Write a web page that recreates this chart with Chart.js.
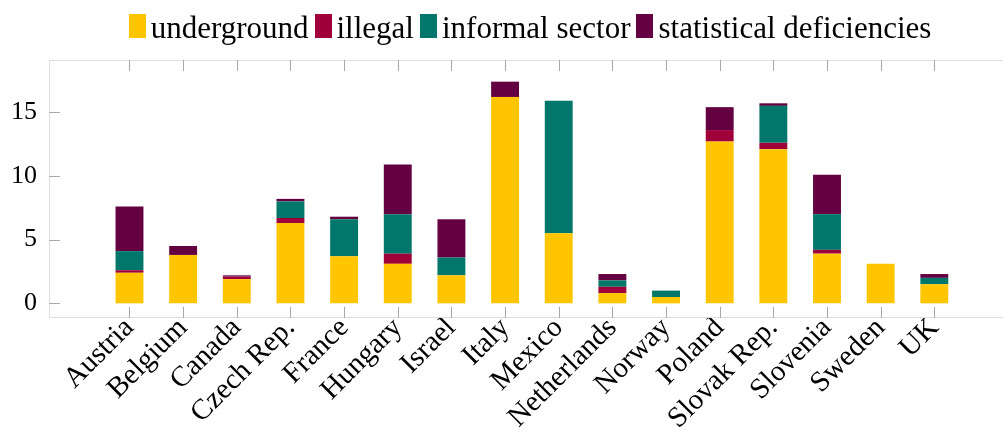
<!DOCTYPE html>
<html>
<head>
<meta charset="utf-8">
<script src="https://cdn.jsdelivr.net/npm/chart.js@4.4.0/dist/chart.umd.min.js"></script>
<style>
  html, body { margin: 0; padding: 0; background: #fff; overflow: hidden; }
  #wrap { position: relative; width: 1003px; height: 436px; }
</style>
</head>
<body>
<div id="wrap"><canvas id="chart" width="1003" height="436"></canvas></div>
<script>
const countries = ['Austria', 'Belgium', 'Canada', 'Czech Rep.', 'France', 'Hungary', 'Israel', 'Italy',
  'Mexico', 'Netherlands', 'Norway', 'Poland', 'Slovak Rep.', 'Slovenia', 'Sweden', 'UK'];
const underground = [2.4, 3.8, 1.9, 6.3, 3.7, 3.1, 2.2, 16.2, 5.5, 0.8, 0.5, 12.7, 12.1, 3.9, 3.1, 1.5];
const illegal     = [0.2, 0.0, 0.2, 0.4, 0.0, 0.8, 0.0, 0.0, 0.0, 0.5, 0.0, 0.9, 0.5, 0.3, 0.0, 0.0];
const informal    = [1.5, 0.0, 0.0, 1.3, 2.9, 3.1, 1.4, 0.0, 10.4, 0.5, 0.5, 0.0, 2.9, 2.8, 0.0, 0.5];
const statistical = [3.5, 0.7, 0.1, 0.2, 0.2, 3.9, 3.0, 1.2, 0.0, 0.5, 0.0, 1.8, 0.2, 3.1, 0.0, 0.3];
const seriesNames = ['underground', 'illegal', 'informal sector', 'statistical deficiencies'];
const seriesColors = ['#ffc600', '#a0003a', '#00776a', '#640041'];
const yTicks = [0, 5, 10, 15];

const serif = '"Liberation Serif", "DejaVu Serif", serif';

// frame (the right side is cut off by the canvas edge) plus inward tick marks
const frameTicks = {
  id: 'frameTicks',
  afterDatasetsDraw(chart) {
    const { ctx, chartArea: a, scales } = chart;
    ctx.save();
    ctx.strokeStyle = '#dedede';
    ctx.lineWidth = 1;
    ctx.beginPath();
    ctx.moveTo(a.right, a.top + 0.5); ctx.lineTo(a.left + 0.5, a.top + 0.5);
    ctx.lineTo(a.left + 0.5, a.bottom - 0.5); ctx.lineTo(a.right, a.bottom - 0.5);
    ctx.stroke();
    ctx.strokeStyle = '#a8a8a8';
    ctx.beginPath();
    countries.forEach((_, i) => {
      const px = Math.round(scales.x.getPixelForValue(i)) + 0.5;
      ctx.moveTo(px, a.top); ctx.lineTo(px, a.top + 11);
      ctx.moveTo(px, a.bottom); ctx.lineTo(px, a.bottom - 11);
    });
    yTicks.forEach(v => {
      const py = Math.round(scales.y.getPixelForValue(v)) + 0.5;
      ctx.moveTo(a.left, py); ctx.lineTo(a.left + 11, py);
    });
    ctx.stroke();
    ctx.restore();
  }
};

// legend row: narrow colour box followed closely by the series name
const legendRow = {
  id: 'legendRow',
  afterDraw(chart) {
    const { ctx, data } = chart;
    const boxW = 17, boxH = 24, gapIn = 5, gapOut = 6;
    ctx.save();
    ctx.font = '31px ' + serif;
    ctx.textBaseline = 'alphabetic';
    const widths = data.datasets.map(ds => ctx.measureText(ds.label).width);
    const n = widths.length;
    const total = widths.reduce((s, w) => s + w, 0) + n * (boxW + gapIn) + (n - 1) * gapOut;
    let x = 530 - total / 2;
    data.datasets.forEach((ds, i) => {
      ctx.fillStyle = ds.backgroundColor;
      ctx.fillRect(Math.round(x), 14, boxW, boxH);
      ctx.fillStyle = '#000';
      ctx.fillText(ds.label, x + boxW + gapIn, 38);
      x += boxW + gapIn + widths[i] + gapOut;
    });
    ctx.restore();
  }
};

const seriesData = [underground, illegal, informal, statistical];

new Chart(document.getElementById('chart'), {
  type: 'bar',
  data: {
    datasets: seriesNames.map((name, k) => ({
      label: name,
      data: seriesData[k].map((v, i) => ({ x: i, y: v })),
      backgroundColor: seriesColors[k],
      borderWidth: 0,
      categoryPercentage: 1,
      barPercentage: 0.52
    }))
  },
  options: {
    responsive: false,
    animation: false,
    devicePixelRatio: 1,
    layout: { padding: { top: 60, right: 0, left: 0, bottom: 0 } },
    plugins: { legend: { display: false }, tooltip: { enabled: false } },
    scales: {
      x: {
        type: 'linear',
        stacked: true,
        offset: false,
        min: -1.5,
        max: 16.28,
        grid: { display: false, drawTicks: false },
        border: { display: false },
        afterBuildTicks: scale => { scale.ticks = countries.map((_, i) => ({ value: i })); },
        afterFit: scale => {
          scale.height = 118;
          scale.paddingLeft = 0;
          scale.paddingRight = 0;
        },
        ticks: {
          autoSkip: false,
          maxRotation: 45,
          minRotation: 45,
          padding: -7,
          color: '#000',
          font: { family: serif, size: 29 },
          callback: v => countries[v]
        }
      },
      y: {
        stacked: true,
        min: -1.15,
        max: 19.1,
        grid: { display: false, drawTicks: false },
        border: { display: false },
        afterBuildTicks: scale => { scale.ticks = yTicks.map(v => ({ value: v })); },
        afterFit: scale => {
          scale.width = 49;
          scale.paddingTop = 0;
          scale.paddingBottom = 0;
        },
        ticks: {
          padding: 12,
          color: '#000',
          font: { family: serif, size: 26 }
        }
      }
    }
  },
  plugins: [frameTicks, legendRow]
});
</script>
</body>
</html>
